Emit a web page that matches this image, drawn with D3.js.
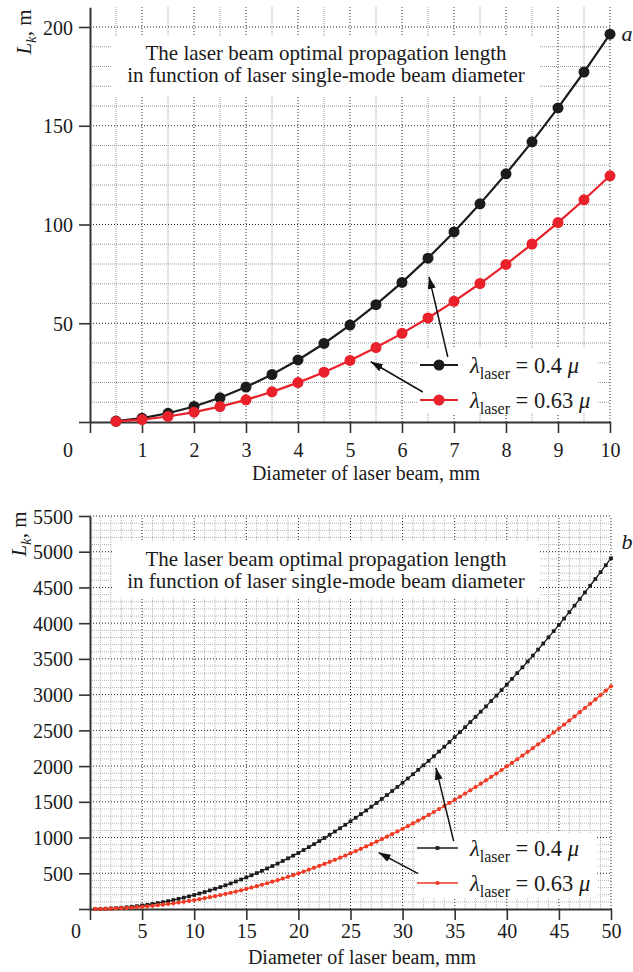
<!DOCTYPE html>
<html>
<head>
<meta charset="utf-8">
<script src="https://cdnjs.cloudflare.com/ajax/libs/d3/7.8.5/d3.min.js"></script>
<style>
body { margin: 0; background: #fff; }
svg text { font-family: "Liberation Serif", "Times New Roman", serif !important; fill: #1a1a1a; }
</style>
</head>
<body>
<script>

// ---- panel a : 0..10 mm ----
var diamA = [0.5,1,1.5,2,2.5,3,3.5,4,4.5,5,5.5,6,6.5,7,7.5,8,8.5,9,9.5,10];
var lenA_04 = [0.49,1.96,4.42,7.85,12.27,17.67,24.05,31.42,39.76,49.09,59.40,70.69,82.96,96.21,110.45,125.66,141.86,159.04,177.21,196.35];
var lenA_063 = [0.31,1.25,2.80,4.99,7.79,11.22,15.27,19.95,25.24,31.17,37.71,44.88,52.67,61.09,70.12,79.79,90.07,100.98,112.51,124.67];
var xTicksA = [0,1,2,3,4,5,6,7,8,9,10];
var yTicksA = [0,50,100,150,200];

// ---- panel b : 0..50 mm ----
var diamB = [0.5,1,1.5,2,2.5,3,3.5,4,4.5,5,5.5,6,6.5,7,7.5,8,8.5,9,9.5,10,
  10.5,11,11.5,12,12.5,13,13.5,14,14.5,15,15.5,16,16.5,17,17.5,18,18.5,19,19.5,20,
  20.5,21,21.5,22,22.5,23,23.5,24,24.5,25,25.5,26,26.5,27,27.5,28,28.5,29,29.5,30,
  30.5,31,31.5,32,32.5,33,33.5,34,34.5,35,35.5,36,36.5,37,37.5,38,38.5,39,39.5,40,
  40.5,41,41.5,42,42.5,43,43.5,44,44.5,45,45.5,46,46.5,47,47.5,48,48.5,49,49.5,50];
var lenB_04 = [0.5,2.0,4.4,7.9,12.3,17.7,24.1,31.4,39.8,49.1,59.4,70.7,83.0,96.2,110.4,125.7,141.9,159.0,177.2,196.3,
  216.5,237.6,259.7,282.7,306.8,331.8,357.8,384.8,412.8,441.8,471.7,502.7,534.6,567.5,601.3,636.2,672.0,708.8,746.6,785.4,
  825.2,865.9,907.6,950.3,994.0,1038.7,1084.3,1131.0,1178.6,1227.2,1276.8,1327.3,1378.9,1431.4,1484.9,1539.4,1594.8,1651.3,1708.7,1767.1,
  1826.5,1886.9,1948.3,2010.6,2073.9,2138.2,2203.5,2269.8,2337.1,2405.3,2474.5,2544.7,2615.9,2688.0,2761.2,2835.3,2910.4,2986.5,3063.5,3141.6,
  3220.6,3300.6,3381.6,3463.6,3546.6,3630.5,3715.4,3801.3,3888.2,3976.1,4064.9,4154.8,4245.6,4337.4,4430.1,4523.9,4618.6,4714.3,4811.1,4908.7];
var lenB_063 = [0.3,1.2,2.8,5.0,7.8,11.2,15.3,19.9,25.2,31.2,37.7,44.9,52.7,61.1,70.1,79.8,90.1,101.0,112.5,124.7,
  137.4,150.8,164.9,179.5,194.8,210.7,227.2,244.3,262.1,280.5,299.5,319.1,339.4,360.3,381.8,403.9,426.7,450.0,474.0,498.7,
  523.9,549.8,576.3,603.4,631.1,659.5,688.5,718.1,748.3,779.2,810.6,842.7,875.5,908.8,942.8,977.4,1012.6,1048.4,1084.9,1122.0,
  1159.7,1198.0,1237.0,1276.6,1316.8,1357.6,1399.0,1441.1,1483.8,1527.2,1571.1,1615.7,1660.9,1706.7,1753.1,1800.2,1847.9,1896.1,1945.1,1994.7,
  2044.8,2095.6,2147.0,2199.1,2251.8,2305.1,2359.0,2413.5,2468.7,2524.5,2580.9,2637.9,2695.6,2753.8,2812.8,2872.3,2932.4,2993.2,3054.6,3116.7];
var xTicksB = [0,5,10,15,20,25,30,35,40,45,50];
var yTicksB = [0,500,1000,1500,2000,2500,3000,3500,4000,4500,5000,5500];

var titleLines = ["The laser beam optimal propagation length",
                  "in function of laser single-mode beam diameter"];
var legendValues = ["0.4", "0.63"];

var W = 633, H = 972;
var svg = d3.select("body").append("svg")
    .attr("width", W)
    .attr("height", H);

var defs = svg.append("defs");
defs.append("marker")
    .attr("id", "arr")
    .attr("markerUnits", "userSpaceOnUse")
    .attr("viewBox", "0 0 12 8")
    .attr("refX", 12).attr("refY", 4)
    .attr("markerWidth", 12).attr("markerHeight", 8)
    .attr("orient", "auto")
  .append("path")
    .attr("d", "M0,0 L12,4 L0,8 Z")
    .attr("fill", "#111");

function drawPanel(c) {
    var x = d3.scaleLinear().domain(c.xDom).range(c.xRange);
    var y = d3.scaleLinear().domain(c.yDom).range(c.yRange);
    var g = svg.append("g");

    // grid
    var grid = g.append("g");
    var xMaj = c.xTicks.filter(d => d > 0);
    var xMin = d3.range(c.xDom[0], c.xDom[1] + 1e-9, c.xMinor).filter(d => d > 0 && xMaj.indexOf(d) < 0);
    var yMaj = c.yTicks.filter(d => d > 0);
    var yMin = d3.range(c.yDom[0], c.yGridTop + 1e-9, c.yMinor).filter(d => d > 0 && yMaj.indexOf(d) < 0);

    grid.selectAll(".vmin").data(xMin).enter().append("line")
        .attr("x1", d => x(d)).attr("x2", d => x(d))
        .attr("y1", y(0)).attr("y2", y(c.yDom[1]))
        .attr("stroke", c.minorColor).attr("stroke-dasharray", "1 1");
    grid.selectAll(".hmin").data(yMin).enter().append("line")
        .attr("x1", x(0)).attr("x2", x(c.xDom[1]))
        .attr("y1", d => y(d)).attr("y2", d => y(d))
        .attr("stroke", c.minorColor).attr("stroke-dasharray", "1 1");
    grid.selectAll(".vmaj").data(xMaj).enter().append("line")
        .attr("x1", d => x(d)).attr("x2", d => x(d))
        .attr("y1", y(0)).attr("y2", y(c.yDom[1]))
        .attr("stroke", "#222").attr("stroke-dasharray", "1 2");
    grid.selectAll(".hmaj").data(yMaj).enter().append("line")
        .attr("x1", x(0)).attr("x2", x(c.xDom[1]))
        .attr("y1", d => y(d)).attr("y2", d => y(d))
        .attr("stroke", "#222").attr("stroke-dasharray", "1 2");

    // title box over the grid
    g.append("rect")
        .attr("x", c.titleBox[0]).attr("y", c.titleBox[1])
        .attr("width", c.titleBox[2]).attr("height", c.titleBox[3])
        .attr("fill", "#fff");
    g.selectAll(".title").data(titleLines).enter().append("text")
        .attr("x", c.titleX)
        .attr("y", (d, i) => c.titleY + i * 22)
        .attr("text-anchor", "middle")
        .attr("font-size", 21)
        .text(d => d);

    // legend box over the grid
    g.append("rect")
        .attr("x", c.legBox[0]).attr("y", c.legBox[1])
        .attr("width", c.legBox[2]).attr("height", c.legBox[3])
        .attr("fill", "#fff");

    // axes
    var ax = g.append("g").attr("transform", "translate(0," + y(0) + ")");
    ax.call(d3.axisBottom(x).tickValues(xMin).tickSize(7).tickFormat(""));
    ax.call(d3.axisBottom(x).tickValues(c.xTicks).tickSize(11).tickSizeOuter(0)
        .tickFormat(d => d === 0 ? "" : d));
    var ay = g.append("g").attr("transform", "translate(" + x(0) + ",0)");
    var yMinAll = d3.range(c.yDom[0], c.yDom[1] + 1e-9, c.yMinor).filter(d => c.yTicks.indexOf(d) < 0);
    ay.call(d3.axisLeft(y).tickValues(yMinAll).tickSize(7).tickFormat(""));
    ay.call(d3.axisLeft(y).tickValues(c.yTicks).tickSize(11).tickSizeOuter(0)
        .tickFormat(d => d === 0 ? "" : d));
    g.selectAll(".domain").attr("stroke", "#333").attr("stroke-width", 2);
    g.selectAll(".tick line").attr("stroke", "#333").attr("stroke-width", 1.6);
    ax.selectAll(".tick text").attr("font-size", 20).attr("dy", 0).attr("y", c.xLabelDy);
    ay.selectAll(".tick text").attr("font-size", 20).attr("dy", 7).attr("x", -17);

    g.append("text")
        .attr("x", c.zeroX).attr("y", y(0) + c.xLabelDy)
        .attr("text-anchor", "middle").attr("font-size", 20).text("0");

    // series
    var series = [
        {v: c.diam.map((d, i) => [d, c.len04[i]]), color: c.black, sym: c.symBlack},
        {v: c.diam.map((d, i) => [d, c.len063[i]]), color: c.red, sym: c.symRed}
    ];
    var line = d3.line().x(d => x(d[0])).y(d => y(d[1]));
    series.forEach(function (s) {
        g.append("path").attr("d", line(s.v))
            .attr("fill", "none").attr("stroke", s.color).attr("stroke-width", c.lw);
        g.selectAll(null).data(s.v).enter().append("path")
            .attr("transform", d => "translate(" + x(d[0]) + "," + y(d[1]) + ")")
            .attr("d", d3.symbol().type(s.sym).size(c.symSize))
            .attr("fill", s.color);
    });

    // legend entries
    series.forEach(function (s, i) {
        var ly = c.legY[i];
        g.append("line")
            .attr("x1", c.legLine[0]).attr("x2", c.legLine[1])
            .attr("y1", ly).attr("y2", ly)
            .attr("stroke", s.color).attr("stroke-width", c.legLw);
        g.append("path")
            .attr("transform", "translate(" + (c.legLine[0] + c.legLine[1]) / 2 + "," + ly + ")")
            .attr("d", d3.symbol().type(s.sym).size(c.symSize))
            .attr("fill", s.color);
        var t = g.append("text").attr("x", c.legTextX).attr("y", ly + 8).attr("font-size", 22.5);
        t.append("tspan").attr("font-style", "italic").text("λ");
        t.append("tspan").attr("font-size", 16).attr("dy", 6).text("laser");
        t.append("tspan").attr("dy", -6).text(" = " + legendValues[i] + " ");
        t.append("tspan").attr("font-style", "italic").text("μ");
    });

    // arrows
    c.arrows.forEach(function (a) {
        g.append("line")
            .attr("x1", x(a[0])).attr("y1", y(a[1]))
            .attr("x2", x(a[2])).attr("y2", y(a[3]))
            .attr("stroke", "#111").attr("stroke-width", 1.5)
            .attr("marker-end", "url(#arr)");
    });

    // axis titles
    g.append("text")
        .attr("x", c.xTitle[0]).attr("y", c.xTitle[1])
        .attr("text-anchor", "middle").attr("font-size", 20)
        .text("Diameter of laser beam, mm");
    var yt = g.append("text")
        .attr("transform", "translate(" + c.yTitle[0] + "," + c.yTitle[1] + ") rotate(-90)")
        .attr("text-anchor", "middle").attr("font-size", 21);
    yt.append("tspan").attr("font-style", "italic").text("L");
    yt.append("tspan").attr("font-style", "italic").attr("font-size", 15).attr("dy", 5).text("k");
    yt.append("tspan").attr("dy", -5).text(", m");

    g.append("text")
        .attr("x", c.letter[0]).attr("y", c.letter[1])
        .attr("text-anchor", "middle").attr("font-size", 22).attr("font-style", "italic")
        .text(c.letter[2]);
}

drawPanel({
    xDom: [0, 10], xRange: [90, 610], xMinor: 0.5, xTicks: xTicksA,
    yDom: [0, 210], yRange: [422, 7.25], yMinor: 10, yTicks: yTicksA, yGridTop: 200,
    minorColor: "#9a9a9a",
    diam: diamA, len04: lenA_04, len063: lenA_063,
    black: "#1c1c1c", red: "#e8212b", symBlack: d3.symbolCircle, symRed: d3.symbolCircle,
    symSize: 95, lw: 2.2, legLw: 2.2,
    titleBox: [112, 36, 428, 61], titleX: 326, titleY: 60,
    legBox: [418, 349, 179, 64], legY: [365, 400], legLine: [420, 458], legTextX: 470,
    arrows: [[6.88, 32.9, 6.52, 73.5], [6.40, 15.2, 5.40, 30.5]],
    xLabelDy: 35, zeroX: 68,
    xTitle: [366, 480], yTitle: [31, 32], letter: [627, 41, "a"]
});

drawPanel({
    xDom: [0, 50], xRange: [90, 611], xMinor: 1, xTicks: xTicksB,
    yDom: [0, 5500], yRange: [909, 516], yMinor: 100, yTicks: yTicksB, yGridTop: 5500,
    minorColor: "#b4b4b4",
    diam: diamB, len04: lenB_04, len063: lenB_063,
    black: "#1c1c1c", red: "#f03a24", symBlack: d3.symbolSquare, symRed: d3.symbolCircle,
    symSize: 14, lw: 1.3, legLw: 1.3,
    titleBox: [112, 542, 428, 56], titleX: 326, titleY: 566,
    legBox: [416, 833, 181, 64], legY: [848, 883], legLine: [417, 458], legTextX: 470,
    arrows: [[34.9, 950, 33.2, 1975], [31.5, 495, 27.7, 790]],
    xLabelDy: 29, zeroX: 76,
    xTitle: [362, 964], yTitle: [26, 534], letter: [627, 549, "b"]
});
</script>
</body>
</html>
